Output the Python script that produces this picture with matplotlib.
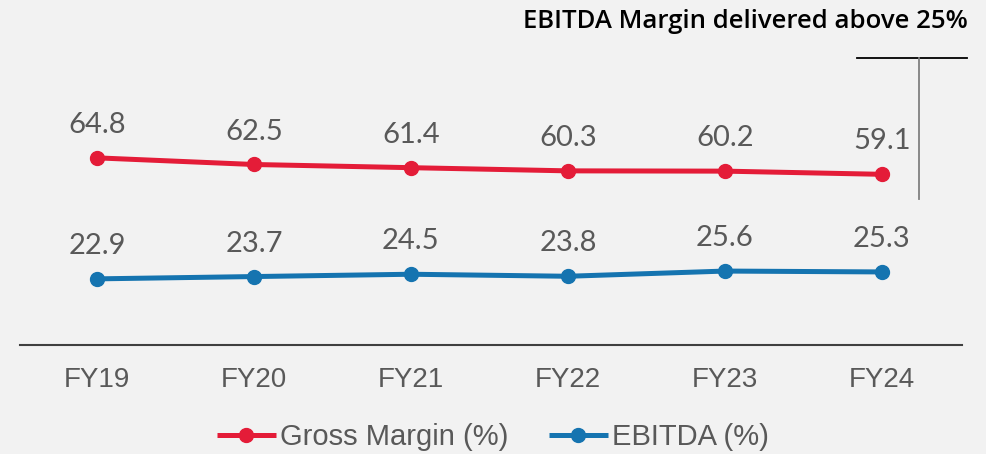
import matplotlib.pyplot as plt
from matplotlib.lines import Line2D

years = ["FY19", "FY20", "FY21", "FY22", "FY23", "FY24"]
gross_margin = [64.8, 62.5, 61.4, 60.3, 60.2, 59.1]
ebitda = [22.9, 23.7, 24.5, 23.8, 25.6, 25.3]

RED = "#e41c38"
BLUE = "#1574b0"
BG = "#f2f2f2"
LABEL_GRAY = "#595959"

W, H = 986, 454
fig = plt.figure(figsize=(W / 100, H / 100), dpi=100, facecolor=BG)
ax = fig.add_axes([20 / W, (H - 345) / H, 942 / W, 288.8 / H], facecolor=BG)

x = list(range(len(years)))
ax.plot(x, gross_margin, color=RED, lw=3.6, marker="o", ms=10,
        label="Gross Margin (%)", solid_capstyle="butt")
ax.plot(x, ebitda, color=BLUE, lw=3.6, marker="o", ms=10,
        label="EBITDA (%)", solid_capstyle="butt")

for series in (gross_margin, ebitda):
    for xi, v in zip(x, series):
        ax.annotate(f"{v:.1f}", (xi, v), xytext=(0, 18), textcoords="offset points",
                    ha="center", va="baseline", fontsize=21, color=LABEL_GRAY,
                    family=["Lato", "DejaVu Sans"])

ax.set_xlim(-0.49, 5.51)
ax.set_ylim(0, 100)
ax.set_yticks([])
ax.set_xticks(x)
ax.set_xticklabels(years, fontsize=20, color=LABEL_GRAY, family="Liberation Sans")
ax.tick_params(axis="x", length=0, pad=16)
for side in ("top", "left", "right"):
    ax.spines[side].set_visible(False)
ax.spines["bottom"].set_color("#404040")
ax.spines["bottom"].set_linewidth(1.5)

leg = fig.legend(loc="center", bbox_to_anchor=(493 / W, 1 - 437 / H), ncol=2,
                 frameon=False, handlelength=2.0, handletextpad=0.15,
                 columnspacing=1.4, prop={"family": "Liberation Sans", "size": 21})
for t in leg.get_texts():
    t.set_color(LABEL_GRAY)

# callout in the top right corner
fig.text(968 / W, 1 - 22 / H, "EBITDA Margin delivered above 25%", ha="right", va="center",
         fontsize=18.5, fontweight="semibold", color="black", family=["Open Sans", "DejaVu Sans"])
fig.add_artist(Line2D([857 / W, 967 / W], [1 - 58 / H, 1 - 58 / H], color="black", lw=1.3))
fig.add_artist(Line2D([919 / W, 919 / W], [1 - 58 / H, 1 - 199 / H], color="#808080", lw=1.3))

fig.savefig("out.png", dpi=100, facecolor=BG)
